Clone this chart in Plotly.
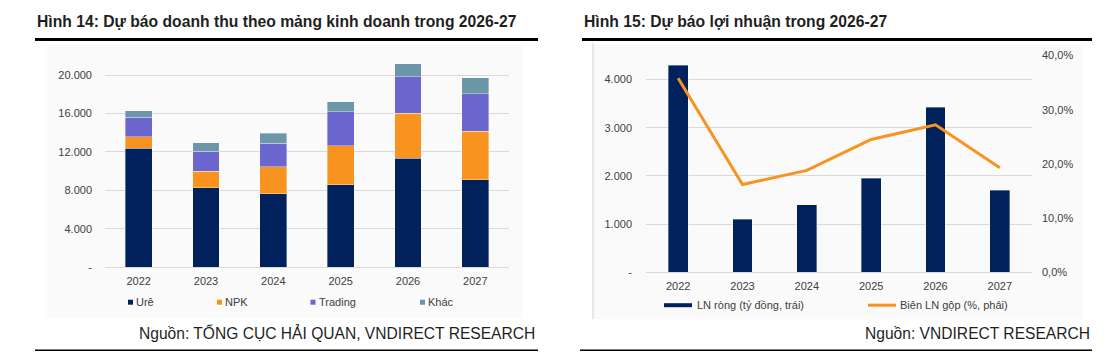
import plotly.graph_objects as go

W, H = 1109, 364

# ---------------- data ----------------
years = ["2022", "2023", "2024", "2025", "2026", "2027"]

# Left chart: revenue by segment (bn VND)
seg_names = ["Urê", "NPK", "Trading", "Khác"]
ure = [12400, 8300, 7650, 8600, 11350, 9100]
npk = [1200, 1700, 2800, 4050, 4700, 5050]
trading = [2000, 2100, 2450, 3550, 3800, 3900]
khac = [700, 850, 1050, 1050, 1350, 1700]
seg_colors = ["#00215B", "#F7931E", "#6A66CE", "#6B97A9"]

left_tickvals = [0, 4000, 8000, 12000, 16000, 20000]
left_ticktext = ["-", "4.000", "8.000", "12.000", "16.000", "20.000"]

# Right chart: net profit & gross margin
profit_name = "LN ròng (tỷ đồng, trái)"
margin_name = "Biên LN gộp (%, phải)"
net_profit = [4300, 1100, 1400, 1950, 3430, 1700]
gross_margin = [0.358, 0.162, 0.188, 0.245, 0.272, 0.193]
profit_tickvals = [0, 1000, 2000, 3000, 4000]
profit_ticktext = ["-", "1.000", "2.000", "3.000", "4.000"]
margin_tickvals = [0, 0.1, 0.2, 0.3, 0.4]
margin_ticktext = ["0,0%", "10,0%", "20,0%", "30,0%", "40,0%"]

title_left = "Hình 14: Dự báo doanh thu theo mảng kinh doanh trong 2026-27"
title_right = "Hình 15: Dự báo lợi nhuận trong 2026-27"
source_left = "Nguồn: TỔNG CỤC HẢI QUAN, VNDIRECT RESEARCH"
source_right = "Nguồn: VNDIRECT RESEARCH"

# ---------------- helpers ----------------
YS, YO = 0.968, 4.5  # vertical calibration of the rendered page


def px(x):
    return x / W


def py(y):
    return 1 - ((y - YO) / YS) / H


FONT = "Liberation Sans, Arial, sans-serif"
TICK_COLOR = "#404040"
TEXT_COLOR = "#1F1F1F"
GRID = "#D9D9D9"

fig = go.Figure()

# Left stacked bars
for name, vals, col in zip(seg_names, [ure, npk, trading, khac], seg_colors):
    fig.add_trace(go.Bar(
        x=years, y=vals, name=name,
        marker=dict(color=col, line=dict(color="rgba(255,255,255,0.6)", width=0.6)),
        width=0.4, xaxis="x", yaxis="y", showlegend=False))

# Right bars and line
fig.add_trace(go.Bar(
    x=years, y=net_profit, name=profit_name,
    marker=dict(color="#00215B", line=dict(color="rgba(255,255,255,0.6)", width=0.6)),
    width=0.31, xaxis="x2", yaxis="y2", showlegend=False))
fig.add_trace(go.Scatter(
    x=years, y=gross_margin, name=margin_name, mode="lines",
    line=dict(color="#F7931E", width=3), xaxis="x2", yaxis="y3", showlegend=False))

tickfont = dict(family=FONT, size=11, color=TICK_COLOR)

fig.update_layout(
    width=W, height=H, autosize=False,
    margin=dict(l=0, r=0, t=0, b=0),
    paper_bgcolor="white", plot_bgcolor="rgba(0,0,0,0)",
    barmode="stack",
    font=dict(family=FONT, size=11, color=TICK_COLOR),
    xaxis=dict(domain=[px(105), px(509)], tickfont=tickfont, showgrid=False,
               showline=True, linecolor=GRID, linewidth=1, ticks="", ticklabelstandoff=4, anchor="y"),
    yaxis=dict(domain=[py(266), py(54.5)], range=[0, 22000], tickvals=left_tickvals,
               ticktext=left_ticktext, tickfont=tickfont, showgrid=True, gridcolor=GRID,
               gridwidth=1, zeroline=False, ticklabelstandoff=12, anchor="x"),
    xaxis2=dict(domain=[px(646), px(1032)], tickfont=tickfont, showgrid=False,
                showline=True, linecolor=GRID, linewidth=1, ticks="", ticklabelstandoff=4, anchor="y2"),
    yaxis2=dict(domain=[py(271), py(54)], range=[0, 4500], tickvals=profit_tickvals,
                ticktext=profit_ticktext, tickfont=tickfont, showgrid=True, gridcolor=GRID,
                gridwidth=1, zeroline=False, ticklabelstandoff=13, anchor="x2"),
    yaxis3=dict(domain=[py(271), py(54)], range=[0, 0.4], overlaying="y2", side="right",
                tickvals=margin_tickvals, ticktext=margin_ticktext, tickfont=tickfont,
                showgrid=False, zeroline=False, ticklabelstandoff=9, anchor="x2"),
)

shapes = []
annotations = []

# Chart panel backgrounds
shapes.append(dict(type="rect", xref="paper", yref="paper", x0=px(47), x1=px(523), y0=py(317), y1=py(43),
                   fillcolor="#FAFAFA", line=dict(width=0), layer="below"))
shapes.append(dict(type="rect", xref="paper", yref="paper", x0=px(593), x1=px(1083), y0=py(318), y1=py(43),
                   fillcolor="#FAFAFA", line=dict(width=0), layer="below"))
shapes.append(dict(type="line", xref="paper", yref="paper", x0=px(593), x1=px(593), y0=py(318), y1=py(42),
                   line=dict(color="#D0D0D0", width=1)))

# Title rules and bottom rules
for x0, x1 in [(35, 538), (582, 1092)]:
    shapes.append(dict(type="line", xref="paper", yref="paper", x0=px(x0), x1=px(x1), y0=py(38), y1=py(38),
                       line=dict(color="black", width=3)))
for x0, x1 in [(35, 538), (580, 1092)]:
    shapes.append(dict(type="line", xref="paper", yref="paper", x0=px(x0), x1=px(x1), y0=py(349), y1=py(349),
                       line=dict(color="black", width=1.5)))

# Titles
for txt, x in [(title_left, 35), (title_right, 582)]:
    annotations.append(dict(text="<b>" + txt + "</b>", xref="paper", yref="paper", x=px(x), y=py(20),
                            xanchor="left", yanchor="middle", showarrow=False,
                            font=dict(family=FONT, size=15.7, color=TEXT_COLOR)))
# Sources
for txt, x in [(source_left, 537), (source_right, 1092)]:
    annotations.append(dict(text=txt, xref="paper", yref="paper", x=px(x), y=py(332),
                            xanchor="right", yanchor="middle", showarrow=False,
                            font=dict(family=FONT, size=15.6, color=TEXT_COLOR)))

# Left legend
leg_x = [128, 217, 310.5, 420]
for name, col, x in zip(seg_names, seg_colors, leg_x):
    shapes.append(dict(type="rect", xref="paper", yref="paper", x0=px(x), x1=px(x + 5),
                       y0=py(303.5), y1=py(298.5), fillcolor=col, line=dict(width=0)))
    annotations.append(dict(text=name, xref="paper", yref="paper", x=px(x + 6), y=py(301),
                            xanchor="left", yanchor="middle", showarrow=False,
                            font=dict(family=FONT, size=11, color=TICK_COLOR)))

# Right legend
shapes.append(dict(type="rect", xref="paper", yref="paper", x0=px(664), x1=px(692), y0=py(306), y1=py(302),
                   fillcolor="#00215B", line=dict(width=0)))
annotations.append(dict(text=profit_name, xref="paper", yref="paper", x=px(695), y=py(304),
                        xanchor="left", yanchor="middle", showarrow=False,
                        font=dict(family=FONT, size=11, color=TICK_COLOR)))
shapes.append(dict(type="line", xref="paper", yref="paper", x0=px(868), x1=px(896), y0=py(304), y1=py(304),
                   line=dict(color="#F7931E", width=3)))
annotations.append(dict(text=margin_name, xref="paper", yref="paper", x=px(898), y=py(304),
                        xanchor="left", yanchor="middle", showarrow=False,
                        font=dict(family=FONT, size=11, color=TICK_COLOR)))

fig.update_layout(shapes=shapes, annotations=annotations)

fig.write_html(
    "out.html",
    config={"displayModeBar": False},
    post_script="document.body.style.margin='0';document.body.style.overflow='hidden';"
                "document.documentElement.style.overflow='hidden';",
)
